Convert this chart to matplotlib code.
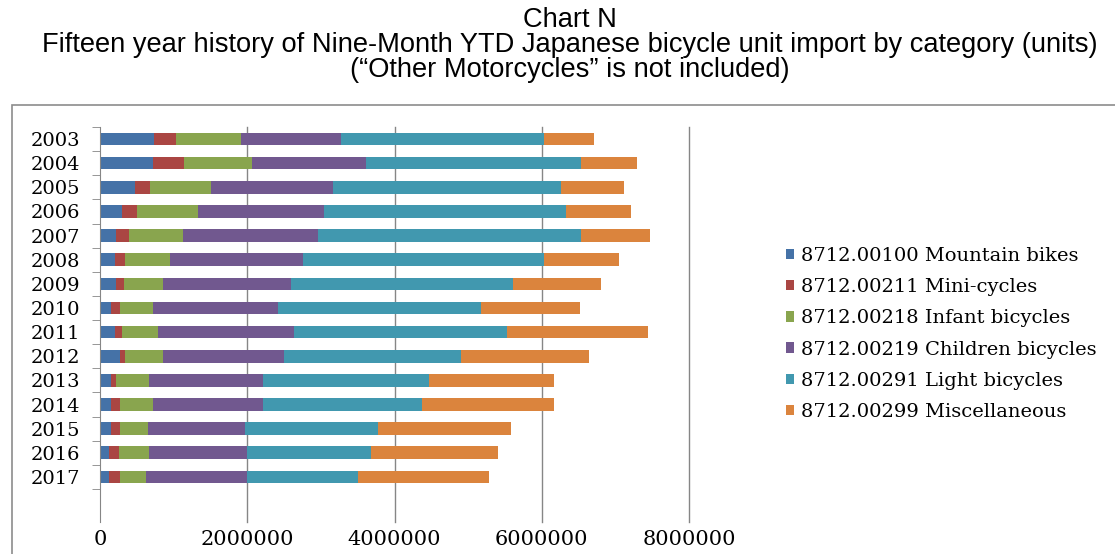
import matplotlib
matplotlib.use("Agg")
import matplotlib.pyplot as plt
from matplotlib.patches import Patch, Rectangle
import numpy as np

years = ["2003", "2004", "2005", "2006", "2007", "2008", "2009", "2010",
         "2011", "2012", "2013", "2014", "2015", "2016", "2017"]
series_names = ["8712.00100 Mountain bikes", "8712.00211 Mini-cycles",
                "8712.00218 Infant bicycles", "8712.00219 Children bicycles",
                "8712.00291 Light bicycles", "8712.00299 Miscellaneous"]
mountain = [739000, 721000, 473000, 303000, 212000, 200000, 212000, 145000,
            200000, 273000, 152000, 152000, 152000, 127000, 127000]
mini = [291000, 418000, 212000, 206000, 182000, 133000, 109000, 128000,
        103000, 66000, 66000, 121000, 121000, 128000, 146000]
infant = [891000, 922000, 818000, 818000, 739000, 612000, 540000, 448000,
          485000, 522000, 449000, 448000, 375000, 412000, 357000]
children = [1358000, 1551000, 1655000, 1721000, 1831000, 1813000, 1739000, 1691000,
            1848000, 1636000, 1551000, 1497000, 1328000, 1327000, 1364000]
light = [2757000, 2921000, 3097000, 3285000, 3569000, 3278000, 3012000, 2764000,
         2891000, 2400000, 2249000, 2158000, 1794000, 1685000, 1509000]
misc = [673000, 764000, 866000, 873000, 940000, 1019000, 1194000, 1345000,
        1921000, 1739000, 1697000, 1788000, 1806000, 1721000, 1776000]
x_ticks = [0, 2000000, 4000000, 6000000, 8000000]

colors = ["#4572A7", "#AA4643", "#89A54E", "#71588F", "#4198AF", "#DB843D"]
series = [mountain, mini, infant, children, light, misc]

serif = ["DejaVu Serif"]

fig = plt.figure(figsize=(11.15, 5.54), dpi=100)
ax = fig.add_axes([100/1115, 32/554, 589/1115, 395/554])

ypos = np.arange(len(years))
left = np.zeros(len(years))
for vals, col, name in zip(series, colors, series_names):
    ax.barh(ypos, vals, left=left, height=0.52, color=col, label=name, zorder=3)
    left += np.array(vals)

ax.set_xlim(0, 8000000)
ax.set_ylim(len(years) - 0.5 + 33/24.1, -0.5)
ax.set_xticks(x_ticks)
ax.set_xticklabels([str(v) for v in x_ticks], fontfamily=serif, fontsize=15)
ax.tick_params(axis="x", length=0, pad=6)
ax.set_yticks(ypos)
ax.set_yticklabels(years, fontfamily=serif, fontsize=14)
ax.tick_params(axis="y", which="major", length=0, pad=14)
ax.set_yticks(np.arange(-0.5, len(years), 1.0), minor=True)
ax.tick_params(axis="y", which="minor", length=6, color="#868686", direction="out")
for v in x_ticks[1:]:
    ax.axvline(v, color="#868686", lw=1, zorder=1, clip_on=False)
for s in ["top", "right", "bottom"]:
    ax.spines[s].set_visible(False)
ax.spines["left"].set_color("#868686")
ax.spines["left"].set_zorder(4)

# outer chart border
fig.add_artist(Rectangle((12/1115, -0.1), 1.2, (554 - 105)/554 + 0.1,
                         transform=fig.transFigure, fill=False,
                         edgecolor="#8c8c8c", lw=1.2))

title_font = dict(ha="center", va="center", fontsize=19.6, fontfamily="Liberation Sans")
fig.text(570/1115, 1 - 20/554, "Chart N", **title_font)
fig.text(570/1115, 1 - 45/554,
         "Fifteen year history of Nine-Month YTD Japanese bicycle unit import by category (units)",
         **title_font)
fig.text(570/1115, 1 - 70/554, "(\u201cOther Motorcycles\u201d is not included)",
         **title_font)

handles = [Patch(facecolor=c) for c in colors]
fig.legend(handles, series_names, loc="center left",
           bbox_to_anchor=(768/1115, 1 - 334/554), frameon=False,
           prop={"family": serif, "size": 14}, handlelength=0.45,
           handleheight=0.45, handletextpad=0.35, labelspacing=0.68)

fig.savefig("out.png", dpi=100)
